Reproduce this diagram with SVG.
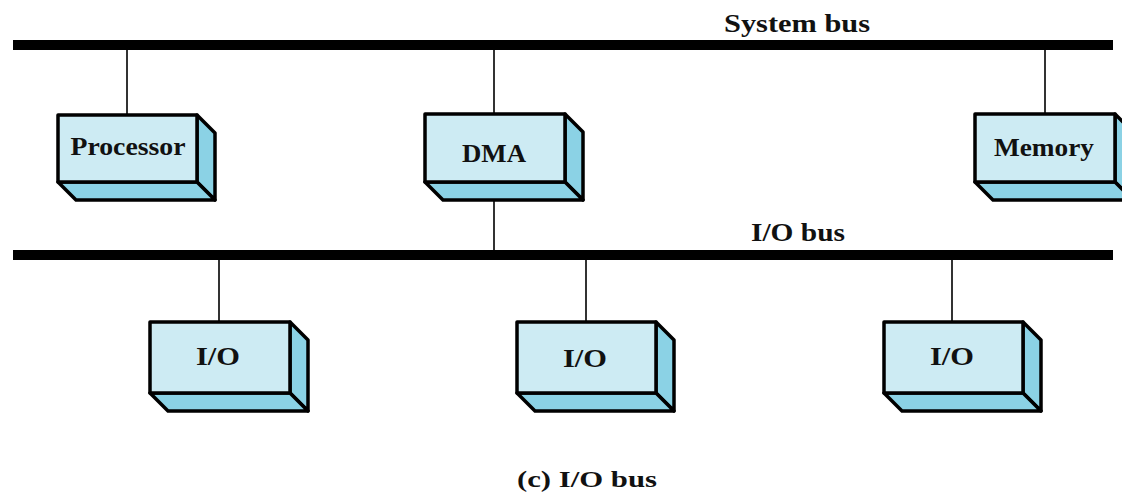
<svg xmlns="http://www.w3.org/2000/svg" width="1122" height="498" viewBox="0 0 1122 498">
<style>
.front{fill:#cdebf3;stroke:#000;stroke-width:3.5;stroke-linejoin:round}
.side{fill:#8bd2e5;stroke:#000;stroke-width:3.5;stroke-linejoin:round}
.lbl{font-family:"Liberation Serif",serif;font-weight:bold;font-size:26px;text-anchor:middle;fill:#111}
.bus{stroke:#000;stroke-width:10}
.wire{stroke:#333;stroke-width:2}
</style>
<g id="connectors">
<line class="bus" x1="13" y1="45" x2="1113" y2="45"/>
<line class="bus" x1="13" y1="255" x2="1113" y2="255"/>
<line class="wire" x1="127" y1="50" x2="127" y2="115"/>
<line class="wire" x1="494" y1="50" x2="494" y2="114"/>
<line class="wire" x1="1045" y1="50" x2="1045" y2="114"/>
<line class="wire" x1="494" y1="190" x2="494" y2="250"/>
<line class="wire" x1="219" y1="260" x2="219" y2="322"/>
<line class="wire" x1="586" y1="260" x2="586" y2="322"/>
<line class="wire" x1="952" y1="260" x2="952" y2="322"/>
</g>
<g id="labels">
<text class="lbl" x="797" y="32" textLength="146" lengthAdjust="spacingAndGlyphs">System bus</text>
<text class="lbl" x="798" y="241" textLength="94" lengthAdjust="spacingAndGlyphs">I/O bus</text>
<text class="lbl" x="587" y="487" style="font-size:24px" textLength="140" lengthAdjust="spacingAndGlyphs">(c) I/O bus</text>
</g>
<g id="processor">
<polygon class="side" points="197,115 215,133 215,200 197,182"/>
<polygon class="side" points="58,182 197,182 215,200 76,200"/>
<rect class="front" x="58" y="115" width="139" height="67"/>
<text class="lbl" x="128" y="155" textLength="115" lengthAdjust="spacingAndGlyphs">Processor</text>
</g>
<g id="dma">
<polygon class="side" points="565,114 583,132 583,200 565,182"/>
<polygon class="side" points="425,182 565,182 583,200 443,200"/>
<rect class="front" x="425" y="114" width="140" height="68"/>
<text class="lbl" x="494" y="162" textLength="64" lengthAdjust="spacingAndGlyphs">DMA</text>
</g>
<g id="memory">
<polygon class="side" points="1115,114 1133,132 1133,200 1115,182"/>
<polygon class="side" points="975,182 1115,182 1133,200 993,200"/>
<rect class="front" x="975" y="114" width="140" height="68"/>
<text class="lbl" x="1044" y="156" textLength="100" lengthAdjust="spacingAndGlyphs">Memory</text>
</g>
<g id="io1">
<polygon class="side" points="290,322 308,340 308,411 290,393"/>
<polygon class="side" points="150,393 290,393 308,411 168,411"/>
<rect class="front" x="150" y="322" width="140" height="71"/>
<text class="lbl" x="218" y="365" textLength="44" lengthAdjust="spacingAndGlyphs">I/O</text>
</g>
<g id="io2">
<polygon class="side" points="656,322 674,340 674,411 656,393"/>
<polygon class="side" points="517,393 656,393 674,411 535,411"/>
<rect class="front" x="517" y="322" width="139" height="71"/>
<text class="lbl" x="585" y="367" textLength="44" lengthAdjust="spacingAndGlyphs">I/O</text>
</g>
<g id="io3">
<polygon class="side" points="1023,322 1041,340 1041,411 1023,393"/>
<polygon class="side" points="884,393 1023,393 1041,411 902,411"/>
<rect class="front" x="884" y="322" width="139" height="71"/>
<text class="lbl" x="952" y="365" textLength="44" lengthAdjust="spacingAndGlyphs">I/O</text>
</g>
</svg>
